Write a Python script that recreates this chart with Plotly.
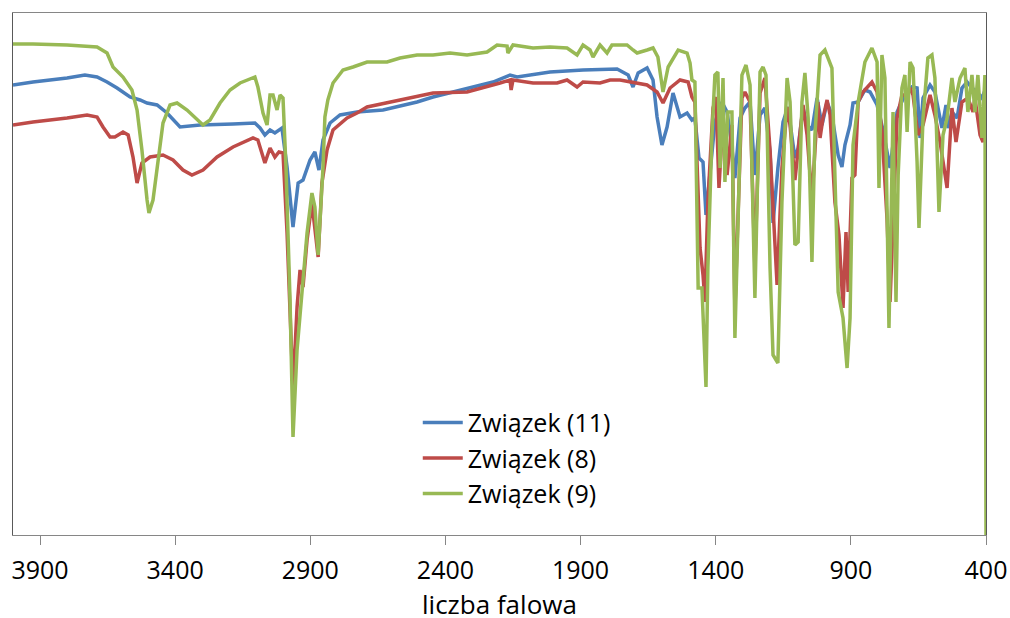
import plotly.graph_objects as go

# IR spectra (wavenumber in cm-1, transmittance in arbitrary units)
WN_11 = [4000, 3926, 3800, 3734, 3689, 3652, 3615, 3567, 3530, 3504, 3467, 3430, 3382, 3308,
         3186, 3105, 3086, 3068, 3049, 3031, 3005, 2986, 2964, 2945, 2927, 2901, 2883, 2868,
         2853, 2827, 2790, 2727, 2631, 2505, 2446, 2320, 2224, 2161, 2135, 2013, 1891, 1765,
         1724, 1706, 1687, 1654, 1632, 1617, 1599, 1580, 1558, 1532, 1506, 1488, 1477, 1462,
         1447, 1436, 1421, 1403, 1377, 1358, 1343, 1329, 1310, 1292, 1273, 1255, 1236, 1218,
         1199, 1188, 1170, 1151, 1133, 1107, 1095, 1077, 1062, 1044, 1025, 1007, 988, 970,
         947, 933, 922, 903, 892, 873, 848, 829, 803, 781, 755, 729, 700, 674, 655, 644, 633,
         607, 589, 570, 563, 548, 540, 526, 507, 489, 470, 452, 433, 415, 400]
T_11 = [90.0, 90.6, 91.4, 92.0, 91.6, 90.6, 89.4, 87.6, 87.0, 86.4, 86.0, 84.4, 81.6, 82.0,
        82.2, 82.4, 81.4, 80.0, 81.0, 80.4, 81.4, 73.6, 61.6, 70.4, 71.0, 75.0, 76.6, 73.0,
        79.0, 82.4, 84.0, 84.6, 85.0, 86.6, 87.6, 89.4, 90.6, 92.0, 91.6, 92.6, 93.0, 93.2,
        92.0, 89.6, 92.4, 93.4, 91.0, 83.6, 78.0, 81.6, 88.4, 83.6, 84.4, 83.0, 83.4, 75.4,
        74.6, 64.0, 72.0, 82.6, 86.6, 84.6, 79.0, 71.4, 83.4, 85.4, 86.6, 72.0, 84.0, 85.4,
        76.6, 62.4, 73.4, 82.6, 85.6, 75.4, 77.4, 85.4, 82.0, 81.0, 87.4, 82.0, 86.6, 84.0,
        76.0, 73.6, 78.0, 82.0, 86.4, 86.6, 89.0, 88.6, 86.0, 81.0, 73.4, 84.6, 88.0, 89.6,
        89.4, 79.4, 87.4, 90.0, 88.6, 83.4, 81.4, 86.0, 81.4, 84.6, 83.4, 89.4, 90.6, 89.4,
        88.6, 87.4, 89.4]

WN_8 = [4000, 3926, 3800, 3726, 3689, 3667, 3641, 3623, 3593, 3574, 3556, 3541, 3523, 3493,
        3445, 3408, 3371, 3338, 3297, 3245, 3186, 3112, 3094, 3068, 3049, 3031, 3016, 3001,
        2986, 2968, 2964, 2949, 2938, 2927, 2912, 2894, 2883, 2871, 2857, 2838, 2816, 2764,
        2727, 2690, 2568, 2446, 2320, 2261, 2198, 2161, 2157, 2150, 2076, 1987, 1950, 1913,
        1891, 1828, 1791, 1754, 1706, 1654, 1617, 1595, 1569, 1532, 1502, 1488, 1477, 1458,
        1447, 1440, 1429, 1410, 1399, 1388, 1373, 1358, 1340, 1329, 1303, 1292, 1273, 1255,
        1236, 1218, 1199, 1181, 1173, 1155, 1136, 1125, 1107, 1077, 1062, 1044, 1022, 1014,
        1003, 988, 977, 959, 944, 929, 918, 910, 896, 885, 873, 855, 822, 803, 785, 766, 755,
        729, 711, 692, 681, 670, 652, 633, 607, 589, 570, 544, 526, 511, 489, 467, 448, 441,
        422, 411, 400]
T_8 = [82.0, 82.6, 83.4, 84.0, 83.6, 81.6, 79.6, 79.6, 80.6, 80.0, 75.6, 70.4, 74.4, 75.6,
       76.0, 75.0, 73.0, 72.0, 73.0, 75.6, 77.6, 79.4, 79.0, 74.4, 77.4, 75.6, 76.6, 76.4,
       60.4, 30.4, 29.0, 45.6, 53.0, 49.6, 59.0, 66.4, 61.6, 55.6, 70.4, 77.0, 81.0, 83.4,
       84.4, 85.6, 87.0, 88.4, 88.6, 89.4, 90.4, 91.0, 89.0, 91.0, 90.4, 90.4, 91.0, 89.6,
       90.6, 90.4, 91.0, 91.0, 90.6, 90.0, 88.6, 86.4, 89.4, 91.0, 90.6, 87.6, 86.6, 57.4,
       52.0, 46.6, 66.6, 85.4, 87.6, 69.4, 83.4, 72.0, 82.0, 45.0, 87.4, 88.6, 86.6, 53.4,
       88.4, 91.4, 77.0, 58.6, 50.0, 73.4, 85.6, 82.0, 71.0, 86.0, 80.0, 67.0, 86.6, 79.4,
       83.4, 87.0, 84.0, 66.6, 60.0, 45.4, 60.6, 48.6, 71.4, 72.0, 86.6, 88.6, 90.6, 88.6,
       81.0, 63.0, 46.6, 83.4, 88.0, 88.0, 89.4, 88.0, 80.0, 82.0, 88.0, 84.0, 78.6, 69.4,
       85.4, 78.6, 86.6, 87.4, 84.6, 87.4, 80.0, 78.6, 84.6]

WN_9 = [4000, 3926, 3800, 3689, 3652, 3630, 3593, 3560, 3541, 3523, 3504, 3497, 3482, 3464,
        3445, 3419, 3393, 3356, 3319, 3297, 3271, 3234, 3197, 3160, 3105, 3094, 3075, 3060,
        3049, 3038, 3023, 3012, 3001, 2990, 2975, 2964, 2949, 2931, 2912, 2894, 2883, 2871,
        2853, 2846, 2835, 2816, 2779, 2742, 2690, 2616, 2568, 2505, 2446, 2383, 2320, 2246,
        2209, 2172, 2169, 2150, 2076, 2013, 1950, 1913, 1891, 1865, 1854, 1828, 1802, 1784,
        1728, 1706, 1691, 1654, 1632, 1614, 1595, 1576, 1539, 1506, 1495, 1488, 1477, 1465,
        1451, 1436, 1429, 1414, 1403, 1392, 1384, 1373, 1366, 1355, 1340, 1329, 1317, 1303,
        1288, 1273, 1255, 1236, 1225, 1214, 1199, 1188, 1170, 1155, 1136, 1125, 1114, 1107,
        1095, 1081, 1070, 1058, 1044, 1033, 1014, 996, 970, 959, 947, 929, 914, 903, 892, 873,
        848, 822, 803, 796, 785, 774, 759, 744, 733, 725, 711, 700, 692, 681, 670, 655, 648,
        633, 615, 600, 589, 574, 559, 544, 526, 515, 496, 478, 467, 452, 441, 430, 415, 404,
        400]
T_9 = [98.2, 98.2, 98.0, 97.6, 96.4, 93.6, 91.6, 89.0, 85.0, 77.0, 67.0, 64.4, 67.0, 75.0,
       82.4, 86.0, 86.4, 85.0, 83.0, 82.0, 83.0, 86.4, 89.0, 90.4, 91.6, 89.6, 84.4, 82.0,
       88.0, 88.0, 85.0, 88.0, 87.4, 73.6, 47.0, 19.6, 37.0, 49.0, 60.4, 68.4, 65.6, 56.0,
       73.6, 83.6, 87.0, 90.4, 93.0, 93.6, 94.6, 94.6, 95.4, 96.0, 96.0, 96.4, 96.0, 96.6,
       98.0, 97.8, 96.4, 98.0, 97.4, 97.6, 97.4, 96.0, 98.0, 97.0, 95.6, 98.0, 96.4, 98.0,
       98.0, 97.0, 96.4, 97.0, 97.4, 95.6, 88.6, 93.6, 97.0, 96.4, 94.4, 91.0, 90.6, 49.4,
       49.4, 29.6, 53.4, 80.0, 92.0, 92.6, 73.4, 91.4, 70.6, 84.6, 84.6, 39.4, 66.6, 92.0,
       94.0, 90.0, 47.4, 92.6, 93.6, 92.0, 53.4, 36.0, 34.4, 66.6, 91.4, 86.6, 70.0, 58.0,
       58.6, 86.6, 92.4, 83.4, 54.6, 80.0, 96.0, 97.0, 93.4, 73.4, 48.6, 43.4, 33.4, 43.4,
       78.0, 86.6, 94.6, 97.4, 94.6, 69.4, 96.0, 91.4, 41.4, 84.6, 46.6, 72.0, 89.4, 92.0,
       80.6, 94.6, 93.4, 74.6, 61.4, 83.4, 95.4, 96.0, 91.4, 64.6, 80.0, 83.4, 91.4, 86.6,
       91.4, 93.4, 84.6, 92.0, 84.6, 92.0, 79.4, 92.0, 0.0]

SERIES = [
    ("Związek (11)", WN_11, T_11, "#4A7EBB"),
    ("Związek (8)", WN_8, T_8, "#BE4B48"),
    ("Związek (9)", WN_9, T_9, "#98B954"),
]

FONT = "Open Sans"

fig = go.Figure()
for name, wn, t, color in SERIES:
    fig.add_trace(
        go.Scatter(x=wn, y=t, mode="lines", name=name,
                   line={"color": color, "width": 3.5})
    )

fig.update_xaxes(
    range=[4000, 400],
    automargin=False,
    tickmode="linear",
    tick0=400,
    dtick=500,
    ticks="outside",
    ticklen=9,
    tickcolor="#868686",
    ticklabelstandoff=4,
    showline=True,
    linecolor="#868686",
    linewidth=1,
    mirror=True,
    showgrid=False,
    zeroline=False,
    tickfont={"family": FONT, "size": 25, "color": "#000000"},
)
fig.update_yaxes(
    range=[0, 104.4],
    automargin=False,
    showticklabels=False,
    ticks="",
    showline=True,
    linecolor="#595959",
    linewidth=1,
    mirror=True,
    showgrid=False,
    zeroline=False,
)

# axis title sits low, right at the bottom edge, as in the reference
fig.add_annotation(
    text="liczba falowa",
    xref="paper", yref="paper",
    x=0.5, y=0,
    xanchor="center", yanchor="top",
    yshift=-49,
    showarrow=False,
    font={"family": FONT, "size": 26, "color": "#000000"},
)

fig.update_layout(
    width=1010,
    height=618,
    margin={"l": 13, "r": 24, "t": 13, "b": 83},
    paper_bgcolor="white",
    plot_bgcolor="white",
    showlegend=True,
    legend={
        "x": 0.416,
        "y": 0.259,
        "xanchor": "left",
        "yanchor": "top",
        "bgcolor": "rgba(0,0,0,0)",
        "font": {"family": FONT, "size": 25, "color": "#000000"},
        "itemwidth": 40,
    },
)

fig.write_html(
    "out.html",
    config={"displayModeBar": False},
    post_script="document.body.style.margin = '0';",
)
